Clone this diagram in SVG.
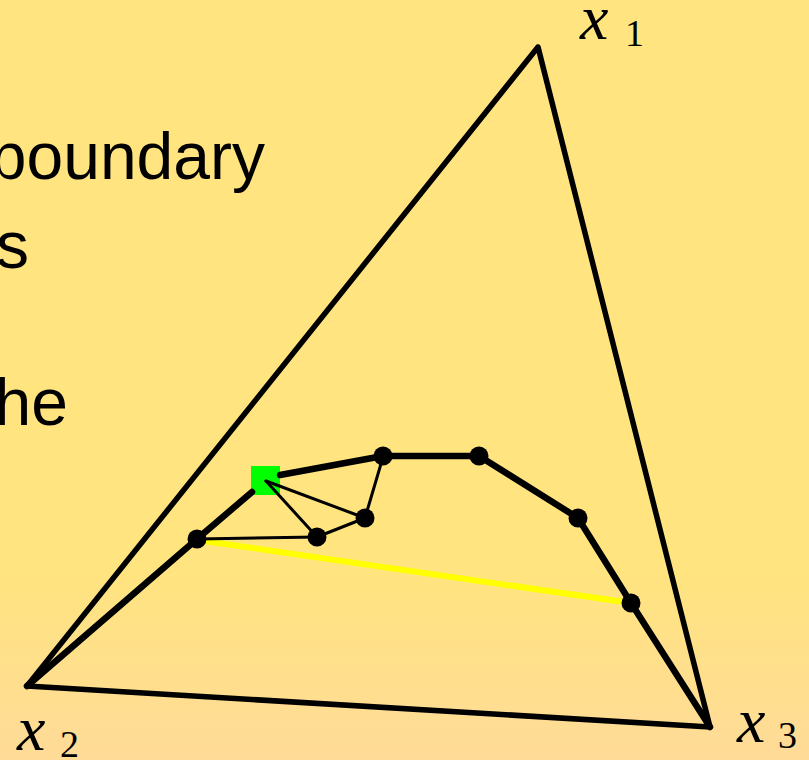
<svg xmlns="http://www.w3.org/2000/svg" width="809" height="760" viewBox="0 0 809 760">
<defs>
<linearGradient id="bg" x1="0" y1="0" x2="0" y2="1">
<stop offset="0" stop-color="#FFE47F"/>
<stop offset="0.75" stop-color="#FFE47F"/>
<stop offset="1" stop-color="#FFDB98"/>
</linearGradient>
<style>
.tri{fill:none;stroke:#000;stroke-width:5.5;stroke-linejoin:round;stroke-linecap:round}
.thick{fill:none;stroke:#000;stroke-width:6.5;stroke-linejoin:round;stroke-linecap:round}
.thin{fill:none;stroke:#000;stroke-width:3;stroke-linecap:round}
.dot{fill:#000}
.word{font-family:"Liberation Sans","DejaVu Sans",sans-serif;font-size:66px;fill:#000}
.mi{font-family:"Liberation Serif","DejaVu Serif",serif;font-style:italic;font-size:64px;fill:#000}
.sub{font-family:"Liberation Serif","DejaVu Serif",serif;font-size:38px;fill:#000}
</style>
</defs>
<rect x="0" y="0" width="809" height="760" fill="url(#bg)"/>
<g id="text">
<text class="word" x="265" y="179" text-anchor="end">boundary</text>
<text class="word" x="29" y="268" text-anchor="end">s</text>
<text class="word" x="68" y="425" text-anchor="end">the</text>
</g>
<g id="node-square"><rect x="251" y="466" width="29" height="29" fill="#00FF00"/></g>
<g id="connectors">
<polygon class="tri" points="538,47 27,686 710,727"/>
<line x1="197" y1="540" x2="631" y2="603" stroke="#FFFF00" stroke-width="6"/>
<polyline class="thick" points="27,686 197,539 252,492"/>
<polyline class="thick" points="280,475 383,456 479,456 578,518 631,603 710,727"/>
<line class="thin" x1="197" y1="539" x2="317" y2="537"/>
<line class="thin" x1="266" y1="481" x2="317" y2="537"/>
<line class="thin" x1="266" y1="481" x2="365" y2="518"/>
<line class="thin" x1="317" y1="537" x2="365" y2="518"/>
<line class="thin" x1="383" y1="457" x2="365" y2="518"/>
</g>
<g id="node-x1"><text class="mi" x="580" y="39">x</text><text class="sub" x="625" y="46">1</text></g>
<g id="node-x2"><text class="mi" x="17" y="750">x</text><text class="sub" x="60" y="757">2</text></g>
<g id="node-x3"><text class="mi" x="737" y="742">x</text><text class="sub" x="778" y="748">3</text></g>
<g id="node-a"><circle class="dot" cx="197" cy="539" r="9.5"/></g>
<g id="node-b"><circle class="dot" cx="317" cy="537" r="9.5"/></g>
<g id="node-c"><circle class="dot" cx="365" cy="518" r="9.5"/></g>
<g id="node-d"><circle class="dot" cx="383" cy="456" r="9.5"/></g>
<g id="node-e"><circle class="dot" cx="479" cy="456" r="9.5"/></g>
<g id="node-f"><circle class="dot" cx="578" cy="518" r="9.5"/></g>
<g id="node-g"><circle class="dot" cx="631" cy="603" r="9.5"/></g>
</svg>
